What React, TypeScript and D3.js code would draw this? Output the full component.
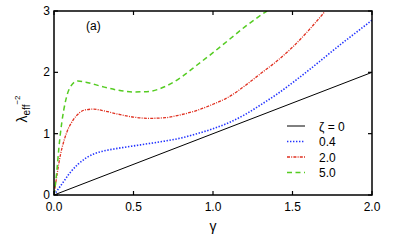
import React from 'react'
import * as d3 from 'd3'

// values
const xiLabels = ['ζ = 0', '0.4', '2.0', '5.0']

const gammaZero = [0, 2.0]
const valZero = [0, 2.0]

const gammaBlue = [0, 0.05, 0.1, 0.15, 0.2, 0.25, 0.3, 0.4, 0.5, 0.6, 0.7, 0.8, 0.9, 1.0, 1.1, 1.2, 1.3, 1.4, 1.5, 1.6, 1.7, 1.8, 1.9, 2.0]
const valBlue = [0, 0.18, 0.36, 0.5, 0.6, 0.67, 0.71, 0.76, 0.8, 0.84, 0.88, 0.93, 1.0, 1.08, 1.18, 1.31, 1.47, 1.64, 1.83, 2.03, 2.24, 2.45, 2.65, 2.85]

const gammaRed = [0, 0.02, 0.04, 0.06, 0.08, 0.12, 0.16, 0.2, 0.25, 0.3, 0.4, 0.5, 0.6, 0.7, 0.8, 0.9, 1.0, 1.1, 1.2, 1.3, 1.4, 1.5, 1.6, 1.7]
const valRed = [0, 0.35, 0.65, 0.86, 1.02, 1.22, 1.34, 1.39, 1.4, 1.38, 1.32, 1.27, 1.25, 1.26, 1.31, 1.38, 1.48, 1.6, 1.78, 1.98, 2.18, 2.41, 2.68, 2.98]

const gammaGreen = [0, 0.01, 0.02, 0.03, 0.05, 0.07, 0.1, 0.15, 0.2, 0.3, 0.4, 0.5, 0.6, 0.7, 0.8, 0.9, 1.0, 1.1, 1.2, 1.3, 1.34]
const valGreen = [0, 0.2, 0.45, 0.75, 1.2, 1.5, 1.75, 1.86, 1.84, 1.77, 1.71, 1.68, 1.69, 1.77, 1.92, 2.12, 2.32, 2.53, 2.74, 2.93, 3.0]

const xTicks = [0, 0.5, 1.0, 1.5, 2.0]
const yTicks = [0, 1, 2, 3]

const W = 399
const H = 247
const margin = { left: 54, top: 11, right: 27, bottom: 52 }

export default function App() {
  const x = d3.scaleLinear().domain([0, 2]).range([margin.left, W - margin.right])
  const y = d3.scaleLinear().domain([0, 3]).range([H - margin.bottom, margin.top])

  const line = d3.line<[number, number]>()
    .x(d => x(d[0]))
    .y(d => y(d[1]))
    .curve(d3.curveMonotoneX)

  const zip = (a: number[], b: number[]) => a.map((g, i) => [g, b[i]] as [number, number])

  const series = [
    { g: gammaZero, v: valZero, color: '#000000', dash: '', w: 1 },
    { g: gammaBlue, v: valBlue, color: '#2233ff', dash: '1.4 1.6', w: 1.6 },
    { g: gammaRed, v: valRed, color: '#e03020', dash: '3 1.2 1 1.2', w: 1.3 },
    { g: gammaGreen, v: valGreen, color: '#55cc22', dash: '5 3.5', w: 1.5 },
  ]

  const x0 = x(0), x1 = x(2), y0 = y(0), y1 = y(3)
  const tl = 4
  const font = 'Liberation Sans, Arial, sans-serif'

  return (
    <svg width={W} height={H} style={{ position: 'absolute', left: 0, top: 0 }} fontFamily={font}>
      <defs>
        <clipPath id="plot">
          <rect x={x0} y={y1} width={x1 - x0} height={y0 - y1} />
        </clipPath>
      </defs>
      <g clipPath="url(#plot)">
        {series.map((s, i) => (
          <path key={i} d={line(zip(s.g, s.v)) || ''} fill="none" stroke={s.color}
            strokeWidth={s.w} strokeDasharray={s.dash} />
        ))}
      </g>
      <rect x={x0} y={y1} width={x1 - x0} height={y0 - y1} fill="none" stroke="#000" strokeWidth={1.5} />
      {xTicks.map(t => (
        <g key={'x' + t}>
          <line x1={x(t)} x2={x(t)} y1={y0} y2={y0 - tl} stroke="#000" strokeWidth={1.2} />
          <line x1={x(t)} x2={x(t)} y1={y1} y2={y1 + tl} stroke="#000" strokeWidth={1.2} />
          <text x={x(t)} y={y0 + 16} textAnchor="middle" fontSize={12}>{t.toFixed(1)}</text>
        </g>
      ))}
      {yTicks.map(t => (
        <g key={'y' + t}>
          <line x1={x0} x2={x0 + tl} y1={y(t)} y2={y(t)} stroke="#000" strokeWidth={1.2} />
          <line x1={x1} x2={x1 - tl} y1={y(t)} y2={y(t)} stroke="#000" strokeWidth={1.2} />
          <text x={x0 - 4} y={y(t) + 4} textAnchor="end" fontSize={12}>{t}</text>
        </g>
      ))}
      <text x={(x0 + x1) / 2} y={231} textAnchor="middle" fontSize={14}>γ</text>
      <text transform={`translate(27, ${(y0 + y1) / 2 + 6}) rotate(-90)`} textAnchor="middle" fontSize={14}>
        λ<tspan fontSize={10} dy={3}>eff</tspan><tspan fontSize={8} dy={-10}>−2</tspan>
      </text>
      <text x={86} y={30} fontSize={12}>(a)</text>
      {series.map((s, i) => {
        const ly = 126 + i * 15.5
        return (
          <g key={'l' + i}>
            <line x1={287} x2={305} y1={ly} y2={ly} stroke={s.color} strokeWidth={s.w} strokeDasharray={s.dash} />
            <text x={319} y={ly + 4.5} fontSize={12}>{xiLabels[i]}</text>
          </g>
        )
      })}
    </svg>
  )
}
